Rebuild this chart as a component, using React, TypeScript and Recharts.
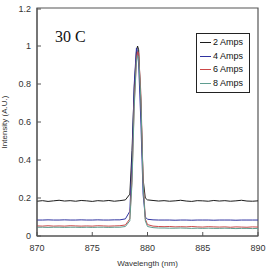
import React from 'react';
import { LineChart, Line, XAxis, YAxis, ReferenceArea } from 'recharts';

// wavelength samples (nm), finer around the lasing peak
const wavelengths = [
  870, 870.5, 871, 871.5, 872, 872.5, 873, 873.5, 874, 874.5, 875, 875.5, 876, 876.5, 877, 877.5, 878,
  878.4, 878.6, 878.8, 879.0, 879.1, 879.2, 879.4, 879.6, 879.8,
  880, 880.5, 881, 881.5, 882, 882.5, 883, 883.5, 884, 884.5, 885, 885.5, 886, 886.5, 887, 887.5, 888, 888.5, 889, 889.5, 890,
];

const amps2 = [
  0.183, 0.186, 0.182, 0.185, 0.188, 0.184, 0.186, 0.183, 0.187, 0.185, 0.182, 0.186, 0.184, 0.187, 0.183, 0.186, 0.19,
  0.22, 0.45, 0.78, 0.97, 1.0, 0.98, 0.7, 0.3, 0.2,
  0.19, 0.187, 0.184, 0.186, 0.183, 0.185, 0.188, 0.184, 0.182, 0.186, 0.185, 0.183, 0.187, 0.184, 0.186, 0.183, 0.185, 0.188, 0.184, 0.183, 0.185,
];

const amps4 = [
  0.084, 0.084, 0.085, 0.084, 0.084, 0.085, 0.084, 0.084, 0.085, 0.084, 0.084, 0.085, 0.084, 0.084, 0.085, 0.085, 0.09,
  0.13, 0.4, 0.8, 0.99, 0.97, 0.9, 0.6, 0.22, 0.1,
  0.088, 0.085, 0.084, 0.084, 0.084, 0.083, 0.084, 0.084, 0.083, 0.084, 0.084, 0.084, 0.083, 0.084, 0.084, 0.084, 0.083, 0.084, 0.084, 0.084, 0.084,
];

const amps6 = [
  0.053, 0.052, 0.054, 0.052, 0.053, 0.052, 0.054, 0.053, 0.052, 0.053, 0.052, 0.054, 0.053, 0.052, 0.053, 0.054, 0.058,
  0.09, 0.3, 0.7, 0.93, 0.97, 0.96, 0.75, 0.3, 0.09,
  0.06, 0.052, 0.05, 0.049, 0.05, 0.048, 0.049, 0.048, 0.05, 0.048, 0.047, 0.049, 0.048, 0.047, 0.048, 0.046, 0.048, 0.047, 0.046, 0.048, 0.047,
];

const amps8 = [
  0.046, 0.046, 0.045, 0.046, 0.046, 0.045, 0.046, 0.046, 0.045, 0.046, 0.045, 0.046, 0.046, 0.045, 0.046, 0.046, 0.05,
  0.08, 0.28, 0.68, 0.92, 0.95, 0.94, 0.72, 0.28, 0.08,
  0.05, 0.044, 0.042, 0.042, 0.041, 0.041, 0.042, 0.041, 0.04, 0.041, 0.04, 0.041, 0.04, 0.04, 0.041, 0.04, 0.039, 0.04, 0.04, 0.039, 0.04,
];

const xTicks = [870, 875, 880, 885, 890];
const yTicks = [0, 0.2, 0.4, 0.6, 0.8, 1, 1.2];

const series = [
  { key: 'a2', name: '2 Amps', color: '#1c1c1c' },
  { key: 'a4', name: '4 Amps', color: '#2f33a0' },
  { key: 'a6', name: '6 Amps', color: '#cc4848' },
  { key: 'a8', name: '8 Amps', color: '#5f9d90' },
];

const data = wavelengths.map((w, i) => ({
  w,
  a2: amps2[i],
  a4: amps4[i],
  a6: amps6[i],
  a8: amps8[i],
}));

const tickFont = { fontFamily: 'Liberation Sans, Arial, sans-serif', fontSize: 9, fill: '#333' };

const YTick = (props: any) => {
  const { x, y, payload } = props;
  return (
    <g>
      <line x1={x + 6} x2={x + 10} y1={y} y2={y} stroke="#555" />
      <text x={x} y={y} dy="0.35em" textAnchor="end" {...tickFont}>
        {payload.value}
      </text>
    </g>
  );
};

const XTick = (props: any) => {
  const { x, y, payload } = props;
  return (
    <g>
      <line x1={x} x2={x} y1={y - 9} y2={y - 13} stroke="#555" />
      <text x={x} y={y} dy="0.71em" textAnchor="middle" {...tickFont}>
        {payload.value}
      </text>
    </g>
  );
};

// legend drawn as a plain box so it reserves no space in the chart layout
const LegendBox = () => (
  <div
    style={{
      position: 'absolute',
      left: 196,
      top: 33,
      width: 46,
      border: '1px solid #222',
      background: '#fff',
      padding: '2px 3px',
      fontFamily: 'Liberation Sans, Arial, sans-serif',
      fontSize: 9,
      color: '#111',
      lineHeight: '13.5px',
    }}
  >
    {series.map((s) => (
      <div key={s.key} style={{ display: 'flex', alignItems: 'center' }}>
        <span style={{ display: 'inline-block', width: 11, height: 1, background: s.color, marginRight: 2 }} />
        <span>{s.name}</span>
      </div>
    ))}
  </div>
);

export default function App() {
  return (
    <div style={{ position: 'absolute', left: 0, top: 0, width: 273, height: 271, background: '#fff' }}>
      <LineChart width={273} height={271} data={data} margin={{ top: 8, right: 15, left: 0, bottom: 0 }}>
        <XAxis
          dataKey="w"
          type="number"
          domain={[870, 890]}
          ticks={xTicks}
          tickSize={0}
          tickMargin={9}
          tick={<XTick />}
          axisLine={{ stroke: '#555' }}
          height={35}
          label={{
            value: 'Wavelength (nm)',
            position: 'insideBottom',
            offset: 5,
            style: { fontFamily: 'Liberation Sans, Arial, sans-serif', fontSize: 8, fill: '#333' },
          }}
        />
        <YAxis
          type="number"
          domain={[0, 1.2]}
          ticks={yTicks}
          tickSize={0}
          tickMargin={6}
          tick={<YTick />}
          axisLine={{ stroke: '#555' }}
          width={37}
          label={{
            value: 'Intensity (A.U.)',
            angle: -90,
            position: 'insideLeft',
            offset: 4,
            style: { textAnchor: 'middle', fontFamily: 'Liberation Sans, Arial, sans-serif', fontSize: 8, fill: '#333' },
          }}
        />
        <ReferenceArea x1={870} x2={890} y1={0} y2={1.2} fill="none" stroke="#555" strokeWidth={1.2} ifOverflow="visible" />
        {series.map((s) => (
          <Line
            key={s.key}
            dataKey={s.key}
            name={s.name}
            stroke={s.color}
            strokeWidth={1}
            dot={false}
            type="linear"
            isAnimationActive={false}
          />
        ))}
      </LineChart>
      <LegendBox />
      <div
        style={{
          position: 'absolute',
          left: 55,
          top: 28,
          fontFamily: 'Liberation Serif, Times New Roman, serif',
          fontSize: 16,
          color: '#111',
        }}
      >
        30 C
      </div>
    </div>
  );
}
